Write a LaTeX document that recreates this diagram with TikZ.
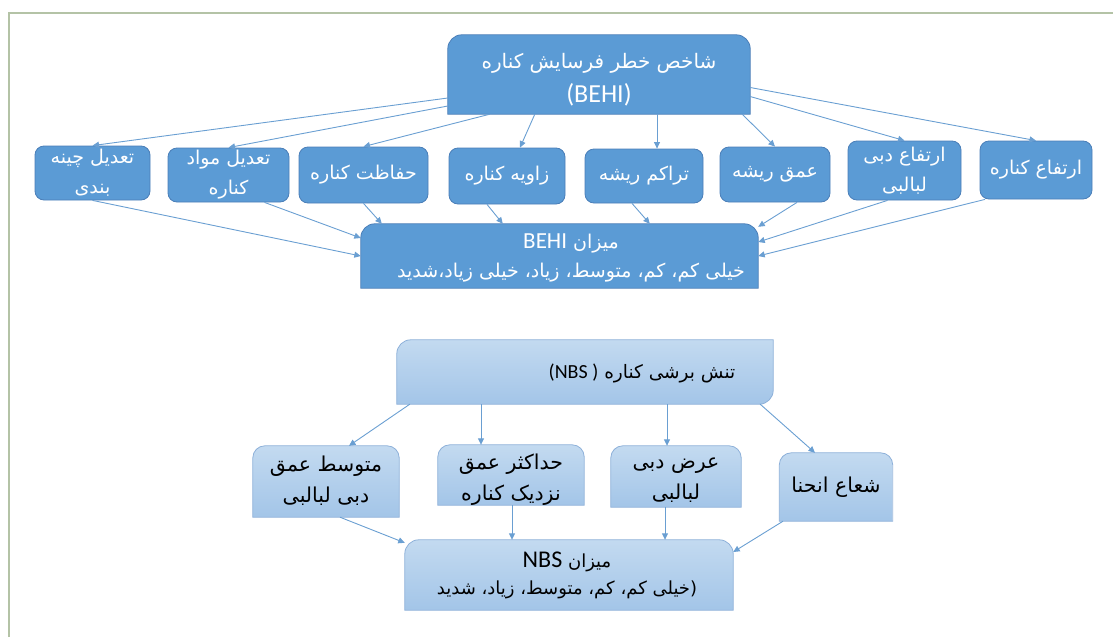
\documentclass[tikz,border=0pt]{standalone}
\usepackage{fontspec}
\usetikzlibrary{arrows.meta,calc}
\TeXXeTstate=1
\newfontfamily\faf[Script=Arabic]{DejaVu Sans}
\newfontfamily\latf{Carlito}
\newcommand\farl[1]{\beginR #1\endR}
\definecolor{tblue}{HTML}{5B9BD5}
\definecolor{tborder}{HTML}{4A7EB8}
\definecolor{arrc}{HTML}{6A9FD2}
\definecolor{ltop}{HTML}{C3DAF0}
\definecolor{lbot}{HTML}{A3C5E8}
\definecolor{lborder}{HTML}{8DB0D9}
\definecolor{framec}{HTML}{B4C3A6}
\pgfdeclarelayer{bg}
\pgfsetlayers{bg,main}
\newcommand\topround[3]{%
\begin{pgfonlayer}{bg}
\path[#2] (#1.south west) -- ([yshift=-#3]#1.north west) arc[start angle=180,end angle=90,radius=#3] -- ([xshift=-#3]#1.north east) arc[start angle=90,end angle=0,radius=#3] -- (#1.south east) -- cycle;
\end{pgfonlayer}}
\newcommand\diaground[3]{%
\begin{pgfonlayer}{bg}
\path[#2] (#1.south west) -- ([yshift=-#3]#1.north west) arc[start angle=180,end angle=90,radius=#3] -- (#1.north east) -- ([yshift=#3]#1.south east) arc[start angle=0,end angle=-90,radius=#3] -- cycle;
\end{pgfonlayer}}
\begin{document}
\begin{tikzpicture}[x=1pt,y=1pt,
 arr/.style={draw=arrc, line width=0.9pt, -{Triangle[length=6.5pt,width=6pt]}},
 darkbox/.style={fill=tblue, draw=tborder, line width=0.8pt},
 lightbox/.style={top color=ltop, bottom color=lbot, draw=lborder, line width=0.8pt},
 rowbox/.style={darkbox, rounded corners=9pt, inner sep=0pt, text=white, align=center, font={\faf\fontsize{19}{30}\selectfont}},
 shapebox/.style={inner sep=0pt},
 txtw/.style={inner sep=0pt, align=center, text=white},
 txtb/.style={inner sep=0pt, align=center, text=black},
]
\useasboundingbox (0,0) rectangle (1113,-637);
\draw[framec, line width=1.3pt] (9,-637) -- (9,-13) -- (1113,-13);

% ---- BEHI part
\node[shapebox, minimum width=302pt, minimum height=79pt] (top) at (599,-74.5) {};
\topround{top}{darkbox}{14pt}
\node[txtw, font={\faf\fontsize{20}{34}\selectfont}] (topt) at (599,-80)
 {\farl{شاخص خطر فرسایش کناره}\\\hbox{\latf\fontsize{26}{34}\selectfont (BEHI)}};

\node[rowbox, minimum width=115pt, minimum height=54pt] (b1) at (92.5,-173) {\farl{تعدیل چینه}\\\farl{بندی}};
\node[rowbox, minimum width=121pt, minimum height=54pt] (b2) at (228.5,-175) {\farl{تعدیل مواد}\\\farl{کناره}};
\node[rowbox, minimum width=129pt, minimum height=56pt] (b3) at (363.5,-175) {\farl{حفاظت کناره}};
\node[rowbox, minimum width=116pt, minimum height=56pt] (b4) at (507,-176) {\farl{زاویه کناره}};
\node[rowbox, minimum width=118pt, minimum height=54pt] (b5) at (644,-176) {\farl{تراکم ریشه}};
\node[rowbox, minimum width=110pt, minimum height=55pt] (b6) at (775,-174.5) {\farl{عمق ریشه}};
\node[rowbox, minimum width=113pt, minimum height=59pt] (b7) at (904.5,-170.5) {\farl{ارتفاع دبی}\\\farl{لبالبی}};
\node[rowbox, minimum width=112pt, minimum height=58pt] (b8) at (1036,-170) {\farl{ارتفاع کناره}};

\node[shapebox, minimum width=397pt, minimum height=64pt] (beh) at (559.5,-256) {};
\topround{beh}{darkbox}{14pt}
\node[txtw, font={\faf\fontsize{19}{29}\selectfont}] (beht) at (571,-257.5)
 {\hbox{\latf\fontsize{23}{29}\selectfont BEHI} \farl{میزان}\\\farl{خیلی کم، کم، متوسط، زیاد، خیلی زیاد،شدید}};

\draw[arr] ([yshift=-23.5pt]top.west) -- (b1.north);
\draw[arr] ([yshift=-31.5pt]top.west) -- (b2.north);
\draw[arr] ([xshift=42pt]top.south west) -- (b3.north);
\draw[arr] ([xshift=87pt]top.south west) -- ([xshift=13pt]b4.north);
\coordinate (p5) at ([xshift=13pt]b5.north);
\draw[arr] (p5 |- top.south) -- (p5);
\draw[arr] ([xshift=-8pt]top.south east) -- (b6.north);
\draw[arr] ([yshift=-22pt]top.east) -- (b7.north);
\draw[arr] ([yshift=-13pt]top.east) -- (b8.north);

\draw[arr] (b1.south) -- (beh.west);
\draw[arr] ([xshift=36pt]b2.south) -- ([yshift=18pt]beh.west);
\draw[arr] (b3.south) -- ([xshift=21pt]beh.north west);
\draw[arr] ([xshift=-20pt]b4.south) -- ([xshift=142pt]beh.north west);
\draw[arr] ([xshift=-12pt]b5.south) -- ([xshift=289pt]beh.north west);
\draw[arr] ([xshift=22pt]b6.south) -- ([yshift=-3pt]beh.north east);
\draw[arr] ([xshift=-17pt]b7.south) -- ([yshift=14pt]beh.east);
\draw[arr] ([xshift=-51pt]b8.south) -- (beh.east);

% ---- NBS part
\node[shapebox, minimum width=376pt, minimum height=64pt] (nbs) at (585,-372) {};
\diaground{nbs}{lightbox}{14pt}
\node[txtb, font={\faf\fontsize{18.5}{28}\selectfont}] (nbst) at (642,-373)
 {\hbox{\latf\fontsize{20}{28}\selectfont(NBS )} \farl{تنش برشی کناره}};

\node[shapebox, minimum width=146pt, minimum height=71pt] (c1) at (326,-481.5) {};
\topround{c1}{lightbox}{12pt}
\node[txtb, font={\faf\fontsize{20.5}{31}\selectfont}] (c1t) at (326,-481) {\farl{متوسط عمق}\\\farl{دبی لبالبی}};
\node[shapebox, minimum width=146pt, minimum height=60pt] (c2) at (511,-475) {};
\topround{c2}{lightbox}{12pt}
\node[txtb, font={\faf\fontsize{20.5}{31}\selectfont}] (c2t) at (511,-480) {\farl{حداکثر عمق}\\\farl{نزدیک کناره}};
\node[shapebox, minimum width=130pt, minimum height=61pt] (c3) at (676,-476.5) {};
\topround{c3}{lightbox}{12pt}
\node[txtb, font={\faf\fontsize{20.5}{31}\selectfont}] (c3t) at (676,-480) {\farl{عرض دبی}\\\farl{لبالبی}};
\node[shapebox, minimum width=113pt, minimum height=68pt] (c4) at (836,-487) {};
\topround{c4}{lightbox}{12pt}
\node[txtb, font={\faf\fontsize{20.5}{31}\selectfont}] (c4t) at (836,-487) {\farl{شعاع انحنا}};

\node[shapebox, minimum width=328pt, minimum height=70pt] (res) at (569,-575) {};
\topround{res}{lightbox}{14pt}
\node[txtb, font={\faf\fontsize{18}{27}\selectfont}] (rest) at (567,-575)
 {\hbox{\latf\fontsize{24}{27}\selectfont NBS} \farl{میزان}\\\farl{(خیلی کم، کم، متوسط، زیاد، شدید}};

\draw[arr] ([xshift=13pt]nbs.south west) -- ([xshift=23pt]c1.north);
\coordinate (q2) at ([xshift=-30pt]c2.north);
\draw[arr] (q2 |- nbs.south) -- (q2);
\coordinate (q3) at ([xshift=-9pt]c3.north);
\draw[arr] (q3 |- nbs.south) -- (q3);
\draw[arr] ([xshift=-13pt]nbs.south east) -- ([xshift=-21pt]c4.north);

\draw[arr] ([xshift=14pt]c1.south) -- ([yshift=-3pt]res.north west);
\coordinate (r2) at ([xshift=1pt]c2.south);
\draw[arr] (r2) -- (r2 |- res.north);
\coordinate (r3) at ([xshift=-11pt]c3.south);
\draw[arr] (r3) -- (r3 |- res.north);
\draw[arr] ([xshift=-53pt]c4.south) -- ([yshift=23pt]res.east);
\end{tikzpicture}
\end{document}
